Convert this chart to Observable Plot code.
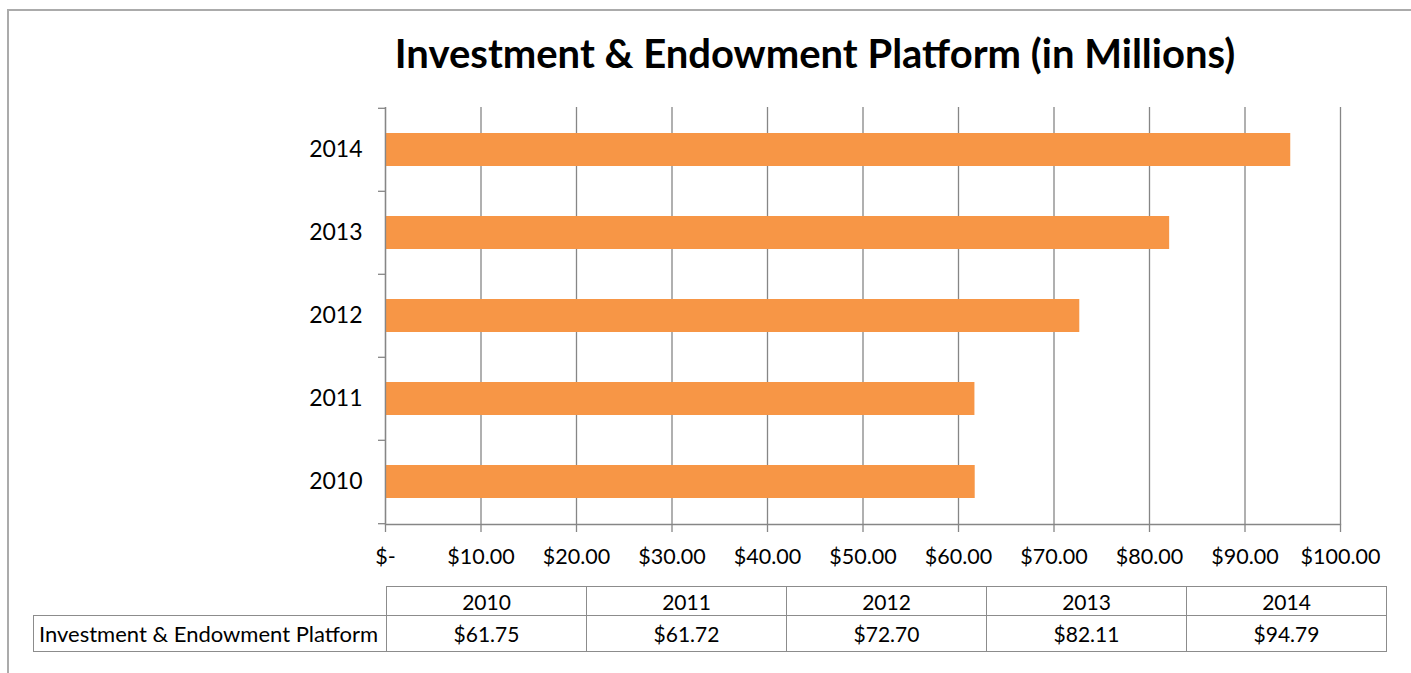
<!DOCTYPE html>
<html>
<head>
<meta charset="utf-8">
<script src="https://cdn.jsdelivr.net/npm/d3@7"></script>
<script src="https://cdn.jsdelivr.net/npm/@observablehq/plot@0.6"></script>
<style>
  html, body { margin: 0; padding: 0; background: #fff; }
  body { width: 1411px; height: 673px; overflow: hidden; position: relative; font-family: Lato, "Open Sans", sans-serif; }
  #frame { position: absolute; left: 7px; top: 9px; width: 1410px; height: 700px; border: 2px solid #ababab; box-sizing: border-box; }
  #title { position: absolute; left: 0; width: 1630px; top: 29px; text-align: center; font-size: 40px; font-weight: 700; color: #000; white-space: nowrap; }
  #chart { position: absolute; left: 0; top: 0; }
  #table { position: absolute; left: 33px; top: 586px; border-collapse: collapse; font-size: 21px; color: #000; }
  #table td { border: 1.5px solid #8c8c8c; text-align: center; padding: 0; }
  #table td.empty { border: none; }
  #table tr.head td { height: 28px; }
  #table tr.vals td { height: 35px; }
  #table td.lab { text-align: left; padding-left: 5px; width: 347px; font-size: 22px; }
  #table td.col { width: 199px; }
</style>
</head>
<body>
<div id="frame"></div>
<div id="title"></div>
<div id="chart"></div>
<table id="table"></table>
<script>
const titleText = "Investment & Endowment Platform (in Millions)";
const seriesName = "Investment & Endowment Platform";
const years = ["2010", "2011", "2012", "2013", "2014"];
const values = [61.75, 61.72, 72.70, 82.11, 94.79];
const xTicks = [0, 10, 20, 30, 40, 50, 60, 70, 80, 90, 100];

const data = years.map((y, i) => ({year: y, value: values[i]}));
const money = v => v === 0 ? "$-" : "$" + d3.format(",.2f")(v);

document.getElementById("title").textContent = titleText;

const chart = Plot.plot({
  width: 1411,
  height: 580,
  marginLeft: 385,
  marginRight: 71,
  marginTop: 107,
  marginBottom: 56,
  style: {fontFamily: "Lato, 'Open Sans', sans-serif", fontSize: "21px", color: "#000", background: "transparent"},
  x: {domain: [0, 100], ticks: xTicks},
  y: {domain: years.slice().reverse(), paddingInner: 0.6, paddingOuter: 0.3},
  marks: [
    Plot.gridX(xTicks, {stroke: "#868686", strokeOpacity: 1, strokeWidth: 1.3}),
    Plot.barX(data, {x: "value", y: "year", fill: "#F79646"}),
    Plot.ruleX([0], {stroke: "#868686", strokeWidth: 1.3}),
    Plot.frame({anchor: "bottom", stroke: "#868686", strokeWidth: 1.3}),
    Plot.axisX(xTicks, {tickSize: 8, tickPadding: 16, tickFormat: money, stroke: "#868686", strokeWidth: 1.3, fontSize: 21.5, label: null}),
    Plot.axisY({tickSize: 0, tickPadding: 23, fontSize: 23, label: null}),
    Plot.axisY({tickSize: 7, text: null, dy: -41.7, stroke: "#868686", strokeWidth: 1.3, label: null}),
    Plot.axisY([years[0]], {tickSize: 7, text: null, dy: 41.7, stroke: "#868686", strokeWidth: 1.3, label: null})
  ]
});
document.getElementById("chart").appendChild(chart);

// data table
const table = document.getElementById("table");
const head = document.createElement("tr");
head.className = "head";
const empty = document.createElement("td");
empty.className = "empty";
head.appendChild(empty);
years.forEach(y => { const td = document.createElement("td"); td.className = "col"; td.textContent = y; head.appendChild(td); });
table.appendChild(head);
const row = document.createElement("tr");
row.className = "vals";
const lab = document.createElement("td");
lab.className = "lab";
lab.textContent = seriesName;
row.appendChild(lab);
values.forEach(v => { const td = document.createElement("td"); td.className = "col"; td.textContent = money(v); row.appendChild(td); });
table.appendChild(row);
</script>
</body>
</html>
